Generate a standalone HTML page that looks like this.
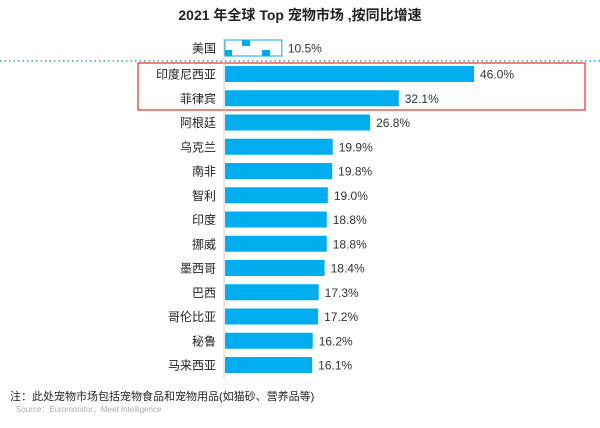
<!DOCTYPE html>
<html><head><meta charset="utf-8"><style>
body{margin:0;background:#fff;width:600px;height:423px;overflow:hidden;font-family:"Liberation Sans","Noto Sans CJK SC",sans-serif}
</style></head><body>
<svg width="600" height="423" xmlns="http://www.w3.org/2000/svg">
<text x="300" y="20" text-anchor="middle" font-size="14" font-weight="bold" fill="#222" font-family="Liberation Sans,Noto Sans CJK SC,sans-serif">2021 年全球 Top 宠物市场 ,按同比增速</text>
<line x1="0" y1="61" x2="600" y2="61" stroke="#2a9fd8" stroke-width="1.5" stroke-dasharray="1.5,3"/>
<rect x="138" y="63" width="447" height="47" fill="none" stroke="#e0403a" stroke-width="1.3"/>
<line x1="224" y1="38" x2="224" y2="378" stroke="#ccc"/>
<g id="bars"></g>
<text x="10" y="400" font-size="11" fill="#222">注：此处宠物市场包括宠物食品和宠物用品(如猫砂、营养品等)</text>
<text x="16" y="412" font-size="8" fill="#aaa">Source：Euromonitor，Meet Intelligence</text>
</svg>
<script>
const categories=["美国","印度尼西亚","菲律宾","阿根廷","乌克兰","南非","智利","印度","挪威","墨西哥","巴西","哥伦比亚","秘鲁","马来西亚"];
const values=[10.5,46.0,32.1,26.8,19.9,19.8,19.0,18.8,18.8,18.4,17.3,17.2,16.2,16.1];
const labels=["10.5%","46.0%","32.1%","26.8%","19.9%","19.8%","19.0%","18.8%","18.8%","18.4%","17.3%","17.2%","16.2%","16.1%"];
const x0=225, k=249/46;
function xs(v){return x0+v*k;}
function yc(i){return i===0?48:74+(i-1)*24.25;}
const g=document.getElementById('bars');
const NS="http://www.w3.org/2000/svg";
categories.forEach((c,i)=>{
  const y=yc(i), w=xs(values[i])-x0;
  const r=document.createElementNS(NS,'rect');
  r.setAttribute('x',x0);r.setAttribute('y',y-8);r.setAttribute('width',w);r.setAttribute('height',16);
  if(i===0){r.setAttribute('fill','#fff');r.setAttribute('stroke','#00aeef');r.setAttribute('stroke-width','1');}
  else r.setAttribute('fill','#00aeef');
  
  
  g.appendChild(r);
  if(i===0){
    [[0,2,7,6],[17,-8,8,6],[37,2,8,6]].forEach(b=>{
      const s=document.createElementNS(NS,'rect');
      s.setAttribute('x',x0+b[0]);s.setAttribute('y',y+b[1]);s.setAttribute('width',b[2]);s.setAttribute('height',b[3]);s.setAttribute('fill','#00aeef');
      
      
      g.appendChild(s);
    });
  }
  const t=document.createElementNS(NS,'text');
  t.setAttribute('x',216);t.setAttribute('y',y+4.5);t.setAttribute('text-anchor','end');t.setAttribute('font-size','12');t.setAttribute('fill','#222');
  t.textContent=c;
  
  
  g.appendChild(t);
  const v=document.createElementNS(NS,'text');
  v.setAttribute('x',xs(values[i])+6);v.setAttribute('y',y+4.5);v.setAttribute('font-size','12');v.setAttribute('fill','#333');
  v.textContent=labels[i];
  
  
  g.appendChild(v);
});
</script>
</body></html>
